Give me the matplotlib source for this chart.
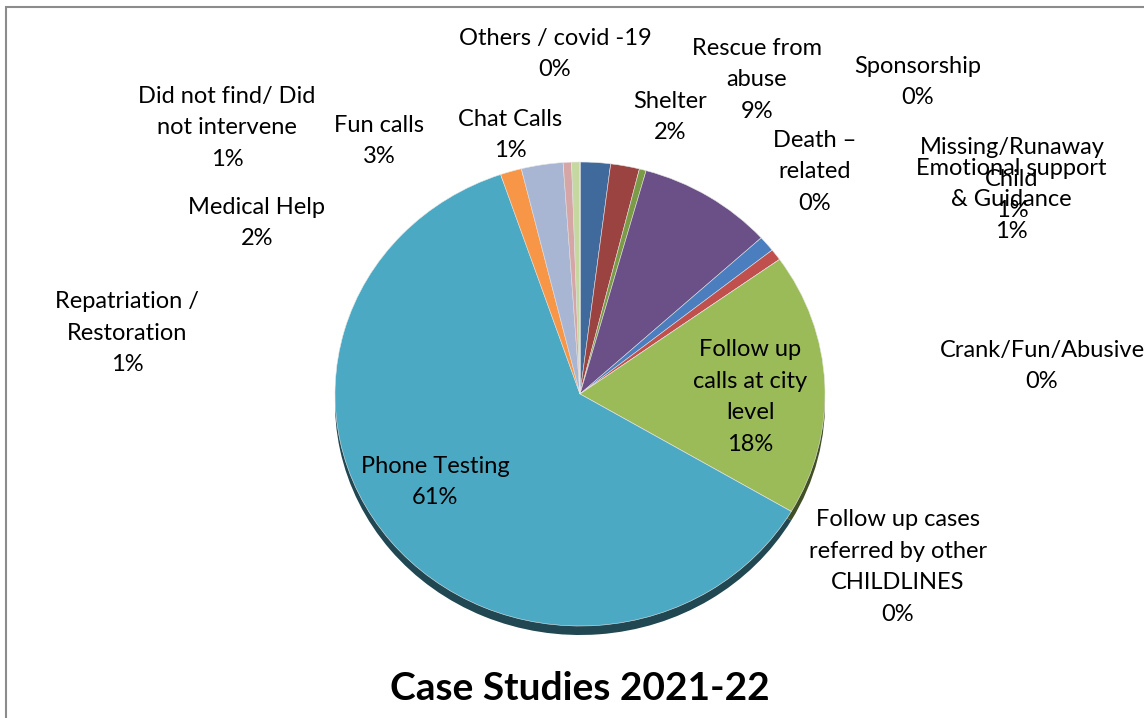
import matplotlib.pyplot as plt
import matplotlib.patches as mpatches
import numpy as np

# categories in clockwise order starting at 12 o'clock
categories = ["Shelter", "Medical Help", "Death \u2013\nrelated", "Rescue from\nabuse",
              "Missing/Runaway\nChild", "Emotional support\n& Guidance", "Crank/Fun/Abusive",
              "Follow up\ncalls at city\nlevel", "Follow up cases\nreferred by other\nCHILDLINES",
              "Phone Testing", "Repatriation /\nRestoration", "Fun calls",
              "Did not find/ Did\nnot intervene", "Chat Calls", "Others / covid -19", "Sponsorship"]
values = [2.0, 1.9, 0.45, 8.9, 1.1, 0.8, 0.0, 18.3, 0.0, 61.3, 1.4, 2.75, 0.55, 0.55, 0.0, 0.0]
colors = ["#3F6A9B", "#9B4340", "#7C9B47", "#6A5086", "#4A7EBE", "#C0504D", "#8064A2",
          "#9BBB59", "#8064A2", "#4BA9C4", "#F79646", "#A8B6D4", "#D5A6A5", "#C5D8A0",
          "#4F81BD", "#F79646"]

# where Excel put each label (pixel centres in the 1144x718 picture)
label_xy = [(670, 117), (257, 223), (815, 172), (757, 80), (1012, 179), (1011, 200),
            (1042, 366), (750, 397), (898, 567), (435, 482), (127, 333), (379, 141),
            (227, 128), (510, 135), (555, 54), (918, 82)]

W, H = 1144, 718
cx, cy, rx, ry = 580, 394, 245, 232
depth = 9

fig = plt.figure(figsize=(W / 100, H / 100), dpi=100)
ax = fig.add_axes([(cx - rx) / W, (H - cy - ry - depth) / H, 2 * rx / W, (2 * ry + depth) / H])

# side/shadow of the tilted pie
dark = [tuple(np.array(plt.matplotlib.colors.to_rgb(c)) * 0.42) for c in colors]
ax.pie(values, colors=dark, startangle=90, counterclock=False, radius=1,
       center=(0, -depth / ry), wedgeprops=dict(linewidth=0))
ax.pie(values, colors=colors, startangle=90, counterclock=False, radius=1,
       wedgeprops=dict(linewidth=0.4, edgecolor="#e8e8e8"))
ax.set_aspect("auto")
ax.set_xlim(-1, 1)
ax.set_ylim(-1 - depth / ry, 1)

fam = ["Lato", "DejaVu Sans"]
total = sum(values)
for name, v, (x, y) in zip(categories, values, label_xy):
    fig.text(x / W, 1 - y / H, f"{name}\n{v / total * 100:.0f}%", ha="center", va="center",
             fontsize=17, family=fam, linespacing=1.63, color="black")

fig.text(580 / W, 1 - 689 / H, "Case Studies 2021-22", ha="center", va="center",
         fontsize=28, fontweight="bold", family=fam)

# chart area border (cut by the picture on the right and bottom)
fig.patches.append(mpatches.Rectangle((6 / W, -0.1), 1.2, 1 - 7 / H + 0.1,
                                      transform=fig.transFigure, fill=False,
                                      edgecolor="#8c8c8c", linewidth=1.5))

fig.savefig("out.png", dpi=100, facecolor="white")
